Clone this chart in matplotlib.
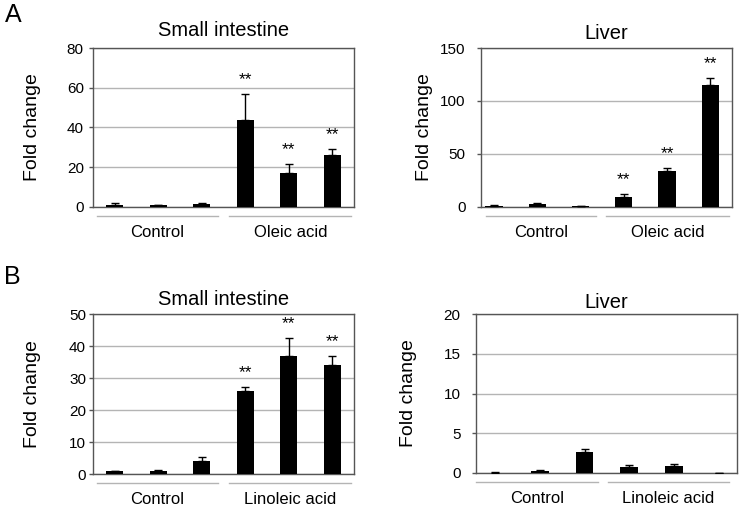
import numpy as np
import matplotlib
matplotlib.use("Agg")
import matplotlib.pyplot as plt

plt.rcParams['font.family'] = ['Liberation Sans', 'DejaVu Sans']

# bar data (mean, upper error), 3 control + 3 treated
groups_A = ["Control", "Oleic acid"]
groups_B = ["Control", "Linoleic acid"]

si_oleic = [1.0, 0.8, 1.6, 44.0, 17.0, 26.0]
si_oleic_err = [0.8, 0.4, 0.5, 13.0, 4.5, 3.0]
si_oleic_sig = [0, 0, 0, 1, 1, 1]

lv_oleic = [1.0, 3.0, 0.8, 9.0, 34.0, 115.0]
lv_oleic_err = [0.6, 0.4, 0.4, 3.0, 2.5, 7.0]
lv_oleic_sig = [0, 0, 0, 1, 1, 1]

si_linoleic = [0.9, 1.0, 4.0, 26.0, 36.8, 34.0]
si_linoleic_err = [0.1, 0.3, 1.3, 1.3, 5.7, 3.0]
si_linoleic_sig = [0, 0, 0, 1, 1, 1]

lv_linoleic = [0.05, 0.2, 2.7, 0.7, 0.85, 0.02]
lv_linoleic_err = [0.05, 0.15, 0.3, 0.25, 0.25, 0.03]
lv_linoleic_sig = [0, 0, 0, 0, 0, 0]

W, H = 742, 509
SPINE = '#555555'
GRID = '#b4b4b4'


def _px_axes(fig, x0, y0, x1, y1):
    return fig.add_axes([x0 / W, 1 - y1 / H, (x1 - x0) / W, (y1 - y0) / H])


def _bar_panel(ax, vals, errs, sig, groups, title, ylim, step, xlim, spans,
               title_pad, ylab_x, tick_pad):
    x = np.arange(len(vals))
    vals = np.asarray(vals)
    errs = np.asarray(errs)
    ax.set_axisbelow(True)
    ax.bar(x, vals, width=0.4, color='black', zorder=3)
    ax.errorbar(x, vals, yerr=[np.zeros_like(errs), errs], fmt='none', ecolor='black',
                elinewidth=1, capsize=3, capthick=1, zorder=4)
    for xi, v, e, s in zip(x, vals, errs, sig):
        if s:
            ax.annotate("**", (xi, v + e), xytext=(0, 5), textcoords='offset points',
                        ha='center', va='bottom', fontsize=12.5)

    ax.set_xlim(*xlim)
    ax.set_ylim(*ylim)
    ax.set_yticks(np.arange(ylim[0], ylim[1] + step / 2, step))
    ax.set_xticks([])
    ax.yaxis.grid(True, color=GRID, linewidth=1)
    for sp in ax.spines.values():
        sp.set_color(SPINE)
        sp.set_linewidth(1)
    ax.tick_params(axis='y', length=3, width=1, color=SPINE, pad=tick_pad, labelsize=11)
    ax.set_title(title, fontsize=14.5, pad=title_pad)
    ax.set_ylabel("Fold change", fontsize=14, va='center')
    ax.yaxis.set_label_coords(ylab_x, 0.5)

    tr = ax.get_xaxis_transform()
    for (a, b), name in zip(spans, groups):
        ax.plot([a, b], [-0.058, -0.058], transform=tr, color=GRID, linewidth=1, clip_on=False)
        ax.text((a + b) / 2, -0.16, name, transform=tr, ha='center', va='center', fontsize=12)


def main():
    fig = plt.figure(figsize=(W / 100, H / 100), dpi=100)

    ax1 = _px_axes(fig, 93, 48, 354, 207)
    _bar_panel(ax1, si_oleic, si_oleic_err, si_oleic_sig, groups_A, "Small intestine",
               (0, 80), 20, (-0.5, 5.5), [(-0.41, 2.37), (2.63, 5.44)], 8.5, -0.23, 3.6)

    ax2 = _px_axes(fig, 481, 48, 732, 207)
    _bar_panel(ax2, lv_oleic, lv_oleic_err, lv_oleic_sig, groups_A, "Liver",
               (0, 150), 50, (-0.3, 5.5), [(-0.19, 2.36), (2.59, 5.42)], 6.5, -0.227, 8)

    ax3 = _px_axes(fig, 93, 314, 354, 474)
    _bar_panel(ax3, si_linoleic, si_linoleic_err, si_linoleic_sig, groups_B, "Small intestine",
               (0, 50), 10, (-0.5, 5.5), [(-0.41, 2.37), (2.63, 5.42)], 6.5, -0.23, 2)

    ax4 = _px_axes(fig, 476, 314, 737, 473)
    _bar_panel(ax4, lv_linoleic, lv_linoleic_err, lv_linoleic_sig, groups_B, "Liver",
               (0, 20), 5, (-0.42, 5.4), [(-0.42, 2.3), (2.52, 5.22)], 4, -0.26, 8)

    fig.text(13 / W, 1 - 15 / H, "A", fontsize=18, ha='center', va='center')
    fig.text(12 / W, 1 - 277 / H, "B", fontsize=18, ha='center', va='center')

    fig.savefig("out.png", dpi=100)
    plt.close(fig)


if __name__ == "__main__":
    main()
